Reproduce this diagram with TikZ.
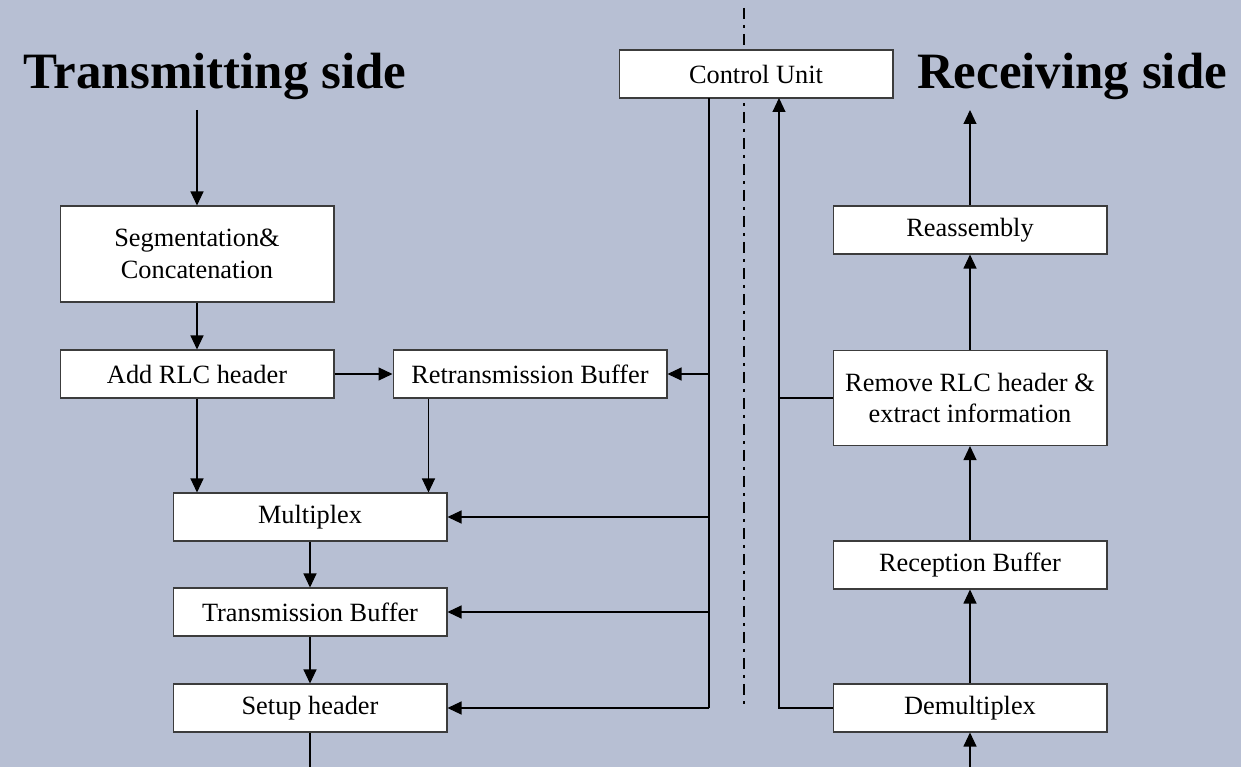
\documentclass[tikz,border=0pt]{standalone}
\usepackage{fontspec}
\setmainfont{Liberation Serif}
\usetikzlibrary{arrows.meta}
\definecolor{bg}{RGB}{183,191,211}
\definecolor{boxline}{RGB}{60,60,60}
\tikzset{
  blk/.style={draw=boxline, fill=white, line width=0.6pt, minimum width=5.48cm, minimum height=0.96cm, inner sep=0pt, align=center, font=\fontsize{15}{18}\selectfont},
  arr/.style={draw=black, line width=0.6pt, -{Triangle[length=0.28cm,width=0.26cm]}},
  ln/.style={draw=black, line width=0.6pt},
  ttl/.style={font=\fontsize{29}{34}\selectfont\bfseries, inner sep=0pt},
  dashdot/.style={draw=black, line width=1.1pt, dash pattern=on 0.22cm off 0.12cm on 0.06cm off 0.12cm}
}
\begin{document}
\begin{tikzpicture}[x=0.02cm,y=-0.02cm]
\fill[bg] (0,0) rectangle (1241,767);
\useasboundingbox (0,0) rectangle (1241,767);
% dash-dot separator
\coordinate (sepT) at (744,8);
\coordinate (sepB) at (744,708);
\draw[dashdot] (sepT) -- (sepB);
% titles
\node[ttl] (tx) at (215,76) {Transmitting side};
\node[ttl] (rx) at (1072,76) {Receiving side};
% boxes
\node[blk] (cu) at (756,74) {Control Unit};
\node[blk, minimum height=1.92cm] (seg) at (197,254) {Segmentation\&\\Concatenation};
\node[blk] (add) at (197,374) {Add RLC header};
\node[blk] (ret) at (530,374) {Retransmission Buffer};
\node[blk] (mux) at (310,517) {Multiplex};
\node[blk] (tb) at (310,612) {Transmission Buffer};
\node[blk] (sh) at (310,708) {Setup header};
\node[blk] (rea) at (970,230) {Reassembly};
\node[blk, minimum height=1.9cm] (rem) at (970,398) {Remove RLC header \&\\extract information};
\node[blk] (rb) at (970,565) {Reception Buffer};
\node[blk] (dmx) at (970,708) {Demultiplex};
% coordinates
\coordinate (tin) at (197,110);
\coordinate (rout) at (970,110);
\coordinate (sout) at (310,767);
\coordinate (din) at (970,767);
\coordinate (cl) at (709,98);
\coordinate (clb) at (709,708);
\coordinate (cr) at (779,98);
\coordinate (crb) at (779,708);
% transmitting flow
\draw[arr] (tin) -- (seg);
\draw[arr] (seg) -- (add);
\draw[arr] (add) -- (ret);
\draw[arr] (add.south) -- (add.south |- mux.north);
\draw[arr] ([xshift=0.72cm]ret.south west) -- ([xshift=0.72cm]ret.south west |- mux.north);
\draw[arr] (mux) -- (tb);
\draw[arr] (tb) -- (sh);
\draw[ln] (sh) -- (sout);
% control to transmitter
\draw[ln] (cl) -- (clb);
\draw[arr] (cl |- ret.east) -- (ret.east);
\draw[arr] (cl |- mux.east) -- (mux.east);
\draw[arr] (cl |- tb.east) -- (tb.east);
\draw[arr] (clb) -- (sh.east);
% receiving flow
\draw[arr] (din) -- (dmx);
\draw[arr] (dmx) -- (rb);
\draw[arr] (rb) -- (rem);
\draw[arr] (rem) -- (rea);
\draw[arr] (rea) -- (rout);
% receiver to control
\draw[arr] (dmx.west) -- (crb) -- (cr);
\draw[ln] (rem.west) -- (cr |- rem.west);
\end{tikzpicture}
\end{document}
